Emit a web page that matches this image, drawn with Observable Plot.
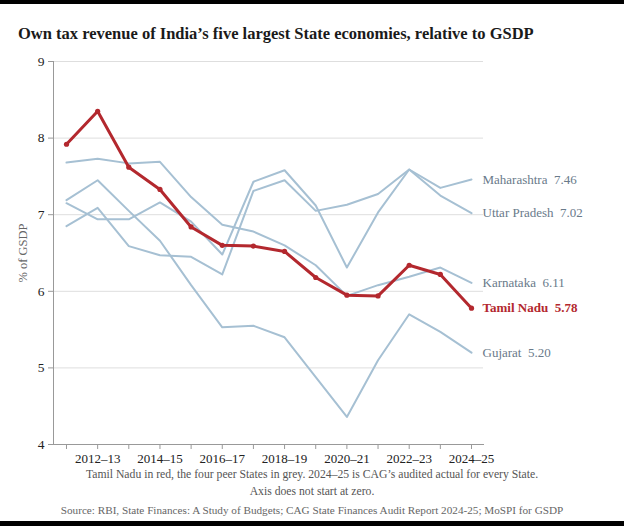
<!DOCTYPE html>
<html>
<head>
<meta charset="utf-8">
<script src="https://cdn.jsdelivr.net/npm/d3@7"></script>
<script src="https://cdn.jsdelivr.net/npm/@observablehq/plot@0.6"></script>
<style>
  html, body { margin: 0; padding: 0; background: #fff; }
  body { width: 624px; height: 526px; position: relative; overflow: hidden; font-family: "Liberation Serif", serif; }
  .bar { position: absolute; left: 0; width: 624px; background: #000; }
  #title { position: absolute; left: 18px; top: 24px; font-size: 16.5px; font-weight: bold; color: #1a1a1a; white-space: nowrap; }
  #chart { position: absolute; left: 0; top: 45px; }
  .cap { position: absolute; left: 0; width: 624px; text-align: center; white-space: nowrap; }
  #cap1 { top: 468px; font-size: 11.7px; color: #555; }
  #cap2 { top: 485px; font-size: 11.7px; color: #555; }
  #src { top: 504px; font-size: 11.2px; color: #666; }
</style>
</head>
<body>
<div class="bar" style="top:0;height:4px"></div>
<div id="title">Own tax revenue of India’s five largest State economies, relative to GSDP</div>
<div id="chart"></div>
<div class="cap" id="cap1">Tamil Nadu in red, the four peer States in grey. 2024–25 is CAG’s audited actual for every State.</div>
<div class="cap" id="cap2">Axis does not start at zero.</div>
<div class="cap" id="src">Source: RBI, State Finances: A Study of Budgets; CAG State Finances Audit Report 2024-25; MoSPI for GSDP</div>
<div class="bar" style="top:521px;height:5px"></div>
<script>
const fiscalYears = ["2011–12","2012–13","2013–14","2014–15","2015–16","2016–17","2017–18",
                     "2018–19","2019–20","2020–21","2021–22","2022–23","2023–24","2024–25"];
const tamilNadu    = [7.92, 8.35, 7.62, 7.33, 6.84, 6.60, 6.59, 6.52, 6.18, 5.95, 5.94, 6.34, 6.22, 5.78];
const maharashtra  = [6.85, 7.09, 6.59, 6.47, 6.45, 6.22, 7.31, 7.45, 7.05, 7.13, 7.27, 7.59, 7.35, 7.46];
const uttarPradesh = [7.15, 6.94, 6.94, 7.16, 6.91, 6.48, 7.43, 7.58, 7.12, 6.31, 7.03, 7.59, 7.25, 7.02];
const karnataka    = [7.68, 7.73, 7.67, 7.69, 7.23, 6.87, 6.78, 6.60, 6.34, 5.94, 6.08, 6.19, 6.31, 6.11];
const gujarat      = [7.19, 7.45, 7.05, 6.66, 6.08, 5.53, 5.55, 5.40, 4.88, 4.36, 5.10, 5.70, 5.47, 5.20];
const yTicks = [4, 5, 6, 7, 8, 9];

const peers = [
  {name: "Maharashtra", values: maharashtra},
  {name: "Uttar Pradesh", values: uttarPradesh},
  {name: "Karnataka", values: karnataka},
  {name: "Gujarat", values: gujarat}
];
const peerRows = peers.flatMap(p => p.values.map((v, i) => ({state: p.name, i, v})));
const tnRows = tamilNadu.map((v, i) => ({i, v}));
const last = fiscalYears.length - 1;
const peerEnds = peers.map(p => ({name: p.name, i: last, v: p.values[last]}));
const tnEnd = [{name: "Tamil Nadu", i: last, v: tamilNadu[last]}];

const grey = "#a6c0d3";
const red = "#b3282e";
const labelGrey = "#697a8a";

const chart = Plot.plot({
  width: 624,
  height: 425,
  marginLeft: 53,
  marginRight: 141,
  marginTop: 16,
  marginBottom: 26,
  style: {fontFamily: "'Liberation Serif', serif", fontSize: "12.5px", color: "#222", background: "#fff", whiteSpace: "pre"},
  x: {type: "linear", domain: [-0.417, 13.385]},
  y: {domain: [4, 9]},
  marks: [
    Plot.gridY(yTicks.slice(1), {stroke: "#dedede", strokeOpacity: 1, strokeWidth: 1}),
    Plot.axisY({ticks: yTicks, tickFormat: d => String(d), tickSize: 5, tickPadding: 4, stroke: "#999", fontSize: 13.5, label: null}),
    Plot.axisY({ticks: [], label: "% of GSDP", labelAnchor: "center", labelArrow: "none", labelOffset: 35,
      color: "#666", fill: "#666", fontSize: 12.5}),
    Plot.axisX({ticks: d3.range(fiscalYears.length), tickSize: 5, tickPadding: 4, stroke: "#999", fontSize: 13,
      tickFormat: i => (i % 2 === 1 ? fiscalYears[i] : ""), label: null}),
    Plot.frame({anchor: "left", stroke: "#999"}),
    Plot.frame({anchor: "bottom", stroke: "#999"}),
    Plot.lineY(peerRows, {x: "i", y: "v", z: "state", stroke: grey, strokeWidth: 2}),
    Plot.lineY(tnRows, {x: "i", y: "v", stroke: red, strokeWidth: 3}),
    Plot.dot(tnRows, {x: "i", y: "v", r: 2.6, fill: red}),
    Plot.text(peerEnds, {x: "i", y: "v", text: d => d.name + "\u00a0 " + d.v.toFixed(2),
      dx: 11, textAnchor: "start", fill: labelGrey, fontSize: 13}),
    Plot.text(tnEnd, {x: "i", y: "v", text: d => d.name + "\u00a0 " + d.v.toFixed(2),
      dx: 11, textAnchor: "start", fill: red, fontSize: 13, fontWeight: "bold"})
  ]
});
document.getElementById("chart").appendChild(chart);
</script>
</body>
</html>
